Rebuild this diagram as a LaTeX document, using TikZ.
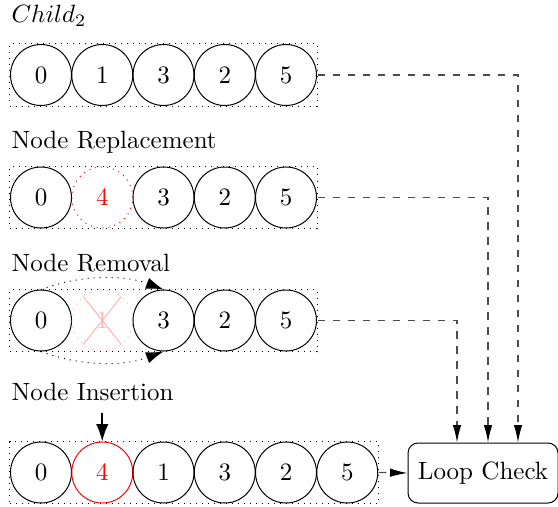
\documentclass[tikz,border=0pt]{standalone}
\usetikzlibrary{arrows.meta,fit,calc}
\begin{document}
\begin{tikzpicture}[x=0.4pt,y=-0.4pt,
  elem/.style={circle,draw,minimum size=24.4pt,inner sep=0pt},
  newelem/.style={elem,draw=red,text=red},
  ghost/.style={elem,draw=red!30,text=red!30,dotted},
  seq/.style={draw,dotted,inner sep=0pt},
  caption/.style={anchor=base west,inner sep=0pt},
  flow/.style={draw=black!70,dashed,line width=0.5pt,-{Latex[length=7pt,width=3.4pt,color=black]}},
  hop/.style={dotted,-{Latex[length=7pt,width=4.6pt]}},
  insert/.style={thick,-{Latex[length=7pt,width=5pt]}},
  checkbox/.style={draw,rounded corners=4pt,minimum width=60pt,minimum height=24pt,inner sep=0pt}
]
\useasboundingbox (0,0) rectangle (558,506);

% original child
\node[caption] (l1) at (11,23) {$Child_2$};
\node[elem] (a0) at (41,75) {0};
\node[elem] (a1) at (102.25,75) {1};
\node[elem] (a2) at (163.5,75) {3};
\node[elem] (a3) at (224.75,75) {2};
\node[elem] (a4) at (286,75) {5};
\node[seq,fit=(a0)(a4)] (b1) {};

% replacement
\node[caption] (l2) at (11,148) {Node Replacement};
\node[elem] (c0) at (41,197.5) {0};
\node[elem,draw=red,text=red,dotted] (c1) at (102.25,197.5) {4};
\node[elem] (c2) at (163.5,197.5) {3};
\node[elem] (c3) at (224.75,197.5) {2};
\node[elem] (c4) at (286,197.5) {5};
\node[seq,fit=(c0)(c4)] (b2) {};

% removal
\node[caption] (l3) at (11,271) {Node Removal};
\node[elem] (d0) at (41,320.5) {0};
\node[ghost] (d1) at (102.25,320.5) {1};
\node[elem] (d2) at (163.5,320.5) {3};
\node[elem] (d3) at (224.75,320.5) {2};
\node[elem] (d4) at (286,320.5) {5};
\node[seq,fit=(d0)(d4)] (b3) {};
\draw[red!30] (d1.center) ++(-19,-24) -- ++(38,48);
\draw[red!30] (d1.center) ++(19,-24) -- ++(-38,48);
\draw[hop] (d0.north) .. controls +(40,-15) and +(-40,-15) .. (d2.north);
\draw[hop] (d0.south) .. controls +(40,15) and +(-40,15) .. (d2.south);

% insertion
\node[caption] (l4) at (11,400) {Node Insertion};
\node[elem] (e0) at (41,472.5) {0};
\node[newelem] (e1) at (102.25,472.5) {4};
\node[elem] (e2) at (163.5,472.5) {1};
\node[elem] (e3) at (224.75,472.5) {3};
\node[elem] (e4) at (286,472.5) {2};
\node[elem] (e5) at (347.25,472.5) {5};
\node[seq,fit=(e0)(e5)] (b4) {};
\coordinate (drop) at (102.25,413);
\draw[insert] (drop) -- (e1.north);

% loop check
\node[checkbox] (loop) at (483,473) {Loop Check};
\draw[flow] (b1.east) -| ($(loop.north)+(35,0)$);
\draw[flow] (b2.east) -| ($(loop.north)+(5,0)$);
\draw[flow] (b3.east) -| ($(loop.north)+(-26,0)$);
\draw[flow] (b4.east) -- (loop.west);
\end{tikzpicture}
\end{document}
